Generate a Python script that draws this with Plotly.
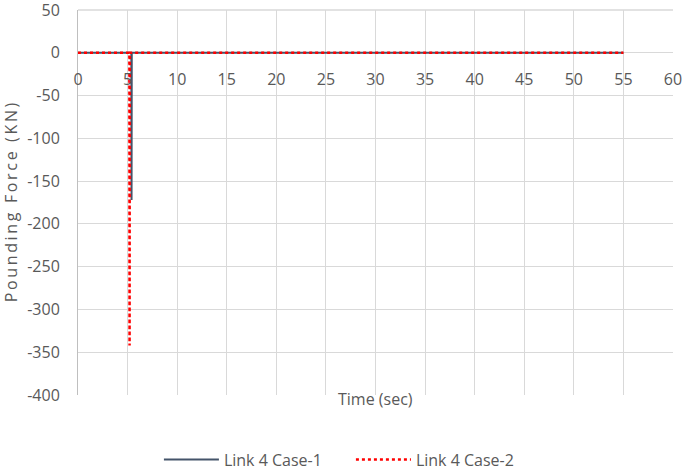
import plotly.graph_objects as go

# time (sec) and pounding force (KN)
time_case1 = [0, 5.0, 5.38, 5.4, 5.42, 5.6, 55]
force_case1 = [0, 0, 0, -172, 0, 0, 0]

time_case2 = [0, 5.0, 5.18, 5.2, 5.22, 5.5, 55]
force_case2 = [0, 0, 0, -342, 0, 0, 0]

x_ticks = list(range(0, 61, 5))
y_ticks = list(range(-400, 51, 50))

GRID = "#D9D9D9"
TEXT = "#595959"
FONT = "Open Sans"

fig = go.Figure()
fig.add_trace(go.Scatter(
    x=time_case1, y=force_case1, mode="lines", name="Link 4 Case-1",
    line=dict(color="#44546A", width=2),
))
fig.add_trace(go.Scatter(
    x=time_case2, y=force_case2, mode="lines", name="Link 4 Case-2",
    line=dict(color="#FF0000", width=2.5, dash="dot"),
))

fig.update_layout(
    width=685, height=470,
    paper_bgcolor="white", plot_bgcolor="white",
    font=dict(family=FONT, color=TEXT, size=15),
    margin=dict(l=78, r=12, t=10, b=75, autoexpand=False),
    showlegend=True,
    legend=dict(
        orientation="h", xanchor="left", x=0.136, yanchor="middle", y=-0.168,
        font=dict(size=16, color=TEXT), itemwidth=55, entrywidth=122,
    ),
    annotations=[dict(
        text="Time (sec)", x=0.5, y=-0.044, xref="paper", yref="paper",
        showarrow=False, font=dict(size=16, color=TEXT),
    )],
    shapes=[dict(
        type="line", xref="paper", yref="paper", x0=0, x1=1, y0=1, y1=1,
        line=dict(color=GRID, width=1.3), layer="below",
    )],
)
fig.update_xaxes(
    range=[0, 60], tickvals=x_ticks, ticktext=[str(v) for v in x_ticks],
    anchor="free", position=400 / 450, automargin=False,
    showgrid=True, gridcolor=GRID, gridwidth=1.3,
    showline=False, zeroline=False, ticks="",
    ticklabelstandoff=15, ticklabeloverflow="allow",
    tickfont=dict(size=16, color=TEXT),
)
fig.update_yaxes(
    range=[-400, 50], tickvals=y_ticks, ticktext=[str(v) for v in y_ticks],
    automargin=False,
    showgrid=True, gridcolor=GRID, gridwidth=1.3,
    showline=True, linecolor="#BFBFBF", zeroline=False, ticks="",
    ticklabelstandoff=14, ticklabeloverflow="allow",
    tickfont=dict(size=16, color=TEXT),
    title=dict(text="\u2009".join("Pounding Force (KN)"), font=dict(size=16, color=TEXT), standoff=6),
)

fig.write_html("out.html", post_script="document.body.style.margin='0';",
               config={"displayModeBar": False})
